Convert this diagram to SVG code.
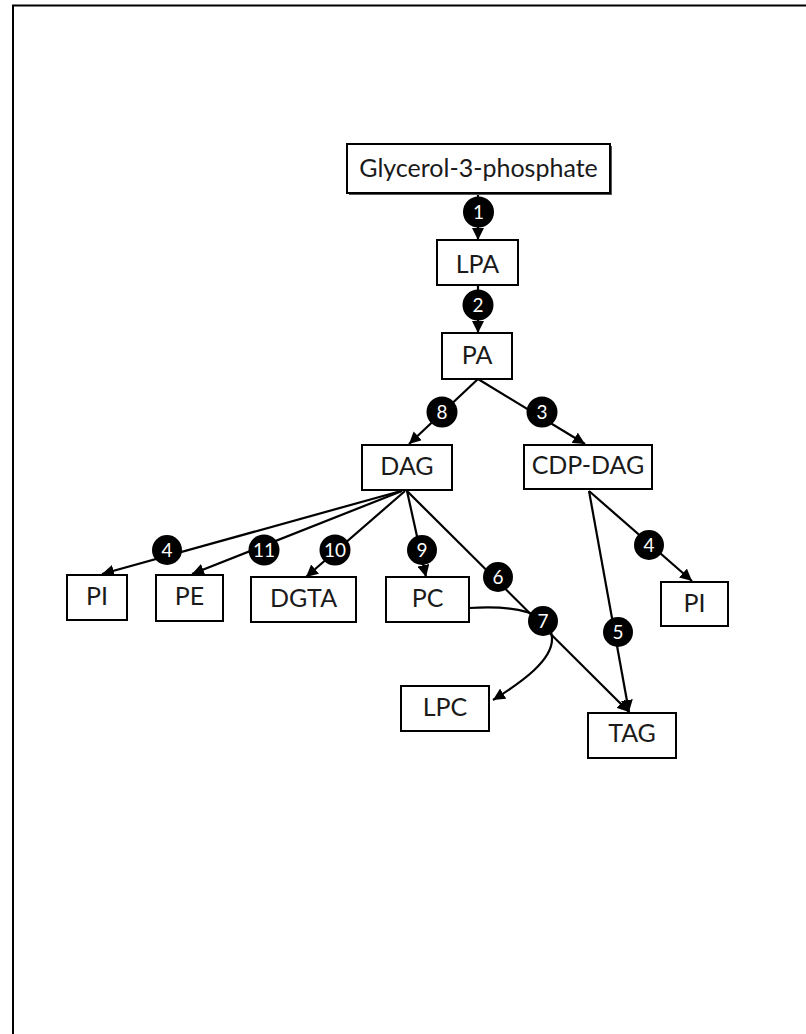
<svg xmlns="http://www.w3.org/2000/svg" width="806" height="1034" viewBox="0 0 806 1034">
<style>
.box{fill:#fff;stroke:#000;stroke-width:2}
.lbl{font-family:Lato,"Liberation Sans",sans-serif;font-size:25px;fill:#1a1a1a;text-anchor:middle}
.edge{fill:none;stroke:#000;stroke-width:2.2}
.dot{fill:#000}
.num{font-family:Lato,"Liberation Sans",sans-serif;font-size:19px;fill:#fff;text-anchor:middle}
</style>
<defs>
<marker id="ah" viewBox="0 0 10 10" refX="10" refY="5" markerWidth="12" markerHeight="12" markerUnits="userSpaceOnUse" orient="auto">
<path d="M0,0 L10,5 L0,10 z" fill="#000"/>
</marker>
</defs>
<rect width="806" height="1034" fill="#fff"/>
<path d="M13,1034 L13,5.5 L806,5.5" fill="none" stroke="#000" stroke-width="2"/>
<g id="connectors">
<path class="edge" d="M478,193 L478,240" marker-end="url(#ah)"/>
<path class="edge" d="M478,286 L478,333" marker-end="url(#ah)"/>
<path class="edge" d="M478,379 L409,444" marker-end="url(#ah)"/>
<path class="edge" d="M478,379 L585,444" marker-end="url(#ah)"/>
<path class="edge" d="M401,491 L102,574" marker-end="url(#ah)"/>
<path class="edge" d="M402,491 L192,574" marker-end="url(#ah)"/>
<path class="edge" d="M405,491 L306,577" marker-end="url(#ah)"/>
<path class="edge" d="M407,491 L426,577" marker-end="url(#ah)"/>
<path class="edge" d="M407,491 L629,712" marker-end="url(#ah)"/>
<path class="edge" d="M589,491 L629,712" marker-end="url(#ah)"/>
<path class="edge" d="M589,491 L692,581" marker-end="url(#ah)"/>
<path class="edge" d="M469,608 C515,605 551,612 552,638 C553,660 522,682 493,700" marker-end="url(#ah)"/>
</g>
<g id="edge-labels">
<g id="e1"><circle class="dot" cx="478.5" cy="212" r="15.5"/><text class="num" x="478.5" y="219">1</text></g>
<g id="e2"><circle class="dot" cx="478" cy="305" r="15.5"/><text class="num" x="478" y="312">2</text></g>
<g id="e8"><circle class="dot" cx="442" cy="412" r="15.5"/><text class="num" x="442" y="419">8</text></g>
<g id="e3"><circle class="dot" cx="542" cy="412" r="15.5"/><text class="num" x="542" y="419">3</text></g>
<g id="e4a"><circle class="dot" cx="167" cy="550" r="15"/><text class="num" x="167" y="557">4</text></g>
<g id="e11"><circle class="dot" cx="264" cy="550" r="15.5"/><text class="num" x="264" y="557">11</text></g>
<g id="e10"><circle class="dot" cx="335" cy="550" r="15.5"/><text class="num" x="335" y="557">10</text></g>
<g id="e9"><circle class="dot" cx="422" cy="550" r="15"/><text class="num" x="422" y="557">9</text></g>
<g id="e6"><circle class="dot" cx="498" cy="577" r="15"/><text class="num" x="498" y="584">6</text></g>
<g id="e7"><circle class="dot" cx="543" cy="621" r="15"/><text class="num" x="543" y="628">7</text></g>
<g id="e5"><circle class="dot" cx="618" cy="632" r="15"/><text class="num" x="618" y="639">5</text></g>
<g id="e4b"><circle class="dot" cx="649" cy="545" r="15"/><text class="num" x="649" y="552">4</text></g>
</g>
<g id="g3p"><rect x="349" y="146" width="263" height="49" fill="#555"/><rect class="box" x="347" y="144" width="263" height="49"/><text class="lbl" x="478.5" y="177">Glycerol-3-phosphate</text></g>
<g id="lpa"><rect class="box" x="437" y="240" width="81" height="45"/><text class="lbl" x="477.5" y="273">LPA</text></g>
<g id="pa"><rect class="box" x="442" y="333" width="70" height="46"/><text class="lbl" x="477" y="364">PA</text></g>
<g id="dag"><rect class="box" x="362" y="445" width="90" height="45"/><text class="lbl" x="407" y="475">DAG</text></g>
<g id="cdpdag"><rect class="box" x="524" y="445" width="128" height="44"/><text class="lbl" x="588" y="474">CDP-DAG</text></g>
<g id="pi1"><rect class="box" x="67" y="575" width="60" height="45"/><text class="lbl" x="97" y="605">PI</text></g>
<g id="pe"><rect class="box" x="156" y="575" width="67" height="46"/><text class="lbl" x="189.5" y="605">PE</text></g>
<g id="dgta"><rect class="box" x="251" y="577" width="105" height="45"/><text class="lbl" x="303.5" y="607">DGTA</text></g>
<g id="pc"><rect class="box" x="386" y="577" width="83" height="45"/><text class="lbl" x="427.5" y="607">PC</text></g>
<g id="pi2"><rect class="box" x="661" y="582" width="67" height="44"/><text class="lbl" x="694.5" y="612">PI</text></g>
<g id="lpc"><rect class="box" x="401" y="686" width="88" height="45"/><text class="lbl" x="445" y="716">LPC</text></g>
<g id="tag"><rect class="box" x="588" y="713" width="88" height="45"/><text class="lbl" x="632" y="742">TAG</text></g>
</svg>
